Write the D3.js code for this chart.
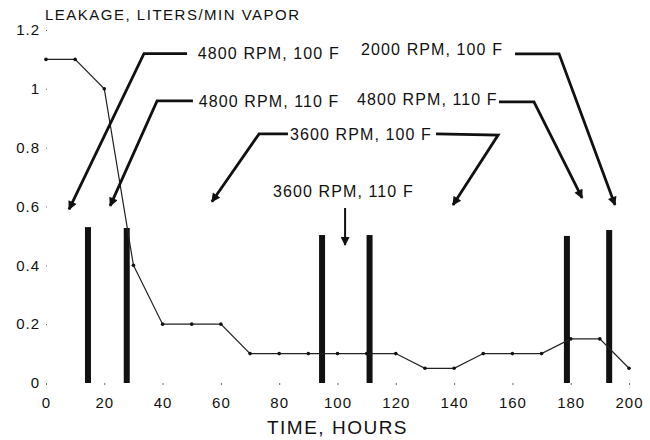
<!DOCTYPE html>
<html>
<head>
<meta charset="utf-8">
<script src="https://cdn.jsdelivr.net/npm/d3@7"></script>
<style>
    body { margin: 0; background: #fff; }
    svg { font-family: "Liberation Sans", Arial, Helvetica, sans-serif; }
    .tick line { stroke: #666; }
    .tick text { fill: #111; }
</style>
</head>
<body>
<svg id="chart" width="650" height="440"></svg>
<script>
const hours = [0, 10, 20, 30, 40, 50, 60, 70, 80, 90, 100, 110, 120, 130, 140, 150, 160, 170, 180, 190, 200];
const leakage = [1.1, 1.1, 1.0, 0.4, 0.2, 0.2, 0.2, 0.1, 0.1, 0.1, 0.1, 0.1, 0.1, 0.05, 0.05, 0.1, 0.1, 0.1, 0.15, 0.15, 0.05];

// condition-change markers (hour, bar top)
const changeHours = [14.4, 27.7, 94.7, 111, 178.7, 193.2];
const changeTops = [0.53, 0.527, 0.503, 0.503, 0.5, 0.52];

const xTicks = [0, 20, 40, 60, 80, 100, 120, 140, 160, 180, 200];
const xTickLabels = ['0', '20', '40', '60', '80', '100', '120', '140', '160', '180', '200'];
const yTicks = [0, 0.2, 0.4, 0.6, 0.8, 1, 1.2];
const yTickLabels = ['0', '0.2', '0.4', '0.6', '0.8', '1', '1.2'];

// annotations, in data units: label anchor + leader paths ending at arrow tip
const noteLabels = ['4800 RPM, 100 F', '4800 RPM, 110 F', '3600 RPM, 100 F', '3600 RPM, 110 F', '2000 RPM, 100 F', '4800 RPM, 110 F'];
const noteAnchors = [[52.1, 1.122], [52.4, 0.959], [83.7, 0.847], [77.9, 0.653], [108.1, 1.133], [106.7, 0.963]];
const notePaths = [
    [[[48.4, 1.12], [33.6, 1.12], [7.9, 0.59]]],
    [[[50.4, 0.959], [38.1, 0.959], [22.0, 0.602]]],
    [[[83.0, 0.847], [73.1, 0.847], [56.9, 0.616]], [[133.8, 0.847], [155.1, 0.843], [139.6, 0.605]]],
    [[[102.6, 0.595], [102.6, 0.469]]],
    [[[160.9, 1.119], [176.0, 1.119], [195.2, 0.605]]],
    [[[155.4, 0.956], [167.4, 0.956], [183.9, 0.629]]]
];

const svg = d3.select('#chart');
const margin = {top: 30, right: 21, bottom: 57, left: 46};
const width = 650 - margin.left - margin.right;
const height = 440 - margin.top - margin.bottom;

const x = d3.scaleLinear().domain([0, 200]).range([0, width]);
const y = d3.scaleLinear().domain([0, 1.2]).range([height, 0]);

svg.append('defs').append('marker')
    .attr('id', 'head')
    .attr('viewBox', '0 0 10 10')
    .attr('refX', 9)
    .attr('refY', 5)
    .attr('markerUnits', 'userSpaceOnUse')
    .attr('markerWidth', 10)
    .attr('markerHeight', 9)
    .attr('orient', 'auto')
    .append('path')
        .attr('d', 'M0,0 L10,5 L0,10 Z')
        .attr('fill', '#111');

const root = svg.append('g')
    .attr('transform', `translate(${margin.left}, ${margin.top})`);

// axes: no domain line, only small tick specks
const xAxis = root.append('g')
    .attr('transform', `translate(0, ${height})`)
    .call(d3.axisBottom(x)
        .tickValues(xTicks)
        .tickSize(2)
        .tickPadding(12)
        .tickFormat((d, i) => xTickLabels[i]));

const yAxis = root.append('g')
    .call(d3.axisLeft(y)
        .tickValues(yTicks)
        .tickSize(2)
        .tickPadding(4)
        .tickFormat((d, i) => yTickLabels[i]));

[xAxis, yAxis].forEach(ax => {
    ax.select('.domain').remove();
    ax.selectAll('text')
        .attr('font-size', 15)
        .attr('letter-spacing', '1px')
        .attr('font-family', '"Liberation Sans", Arial, sans-serif');
});
yAxis.selectAll('.tick line').attr('x2', 2).attr('stroke-dasharray', '1,1');

// thick condition-change bars
root.selectAll('.change')
    .data(changeHours)
    .enter()
        .append('rect')
            .attr('class', 'change')
            .attr('x', d => x(d) - 3)
            .attr('width', 6)
            .attr('y', (d, i) => y(changeTops[i]))
            .attr('height', (d, i) => height - y(changeTops[i]))
            .attr('fill', '#111');

// leakage line
const points = hours.map((h, i) => [h, leakage[i]]);
root.append('path')
    .datum(points)
    .attr('fill', 'none')
    .attr('stroke', '#222')
    .attr('stroke-width', 1.2)
    .attr('d', d3.line().x(d => x(d[0])).y(d => y(d[1])));

root.selectAll('.pt')
    .data(points)
    .enter()
        .append('circle')
            .attr('class', 'pt')
            .attr('cx', d => x(d[0]))
            .attr('cy', d => y(d[1]))
            .attr('r', 1.8)
            .attr('fill', '#111');

// annotations
const leader = d3.line().x(d => x(d[0])).y(d => y(d[1]));
noteLabels.forEach((label, i) => {
    root.append('text')
        .attr('x', x(noteAnchors[i][0]))
        .attr('y', y(noteAnchors[i][1]))
        .attr('dy', '0.36em')
        .attr('font-size', 16)
        .attr('letter-spacing', '1.1px')
        .attr('fill', '#111')
        .text(label);

    notePaths[i].forEach(p => {
        root.append('path')
            .datum(p)
            .attr('fill', 'none')
            .attr('stroke', '#111')
            .attr('stroke-width', p.length === 2 ? 2 : 2.8)
            .attr('marker-end', 'url(#head)')
            .attr('d', leader);
    });
});

// axis titles
svg.append('text')
    .attr('x', 45)
    .attr('y', 20)
    .attr('font-size', 15)
    .attr('letter-spacing', '1.5px')
    .attr('fill', '#111')
    .text('LEAKAGE, LITERS/MIN VAPOR');

svg.append('text')
    .attr('x', margin.left + x(100))
    .attr('y', 434)
    .attr('text-anchor', 'middle')
    .attr('font-size', 19)
    .attr('letter-spacing', '1.5px')
    .attr('fill', '#111')
    .text('TIME, HOURS');
</script>
</body>
</html>
